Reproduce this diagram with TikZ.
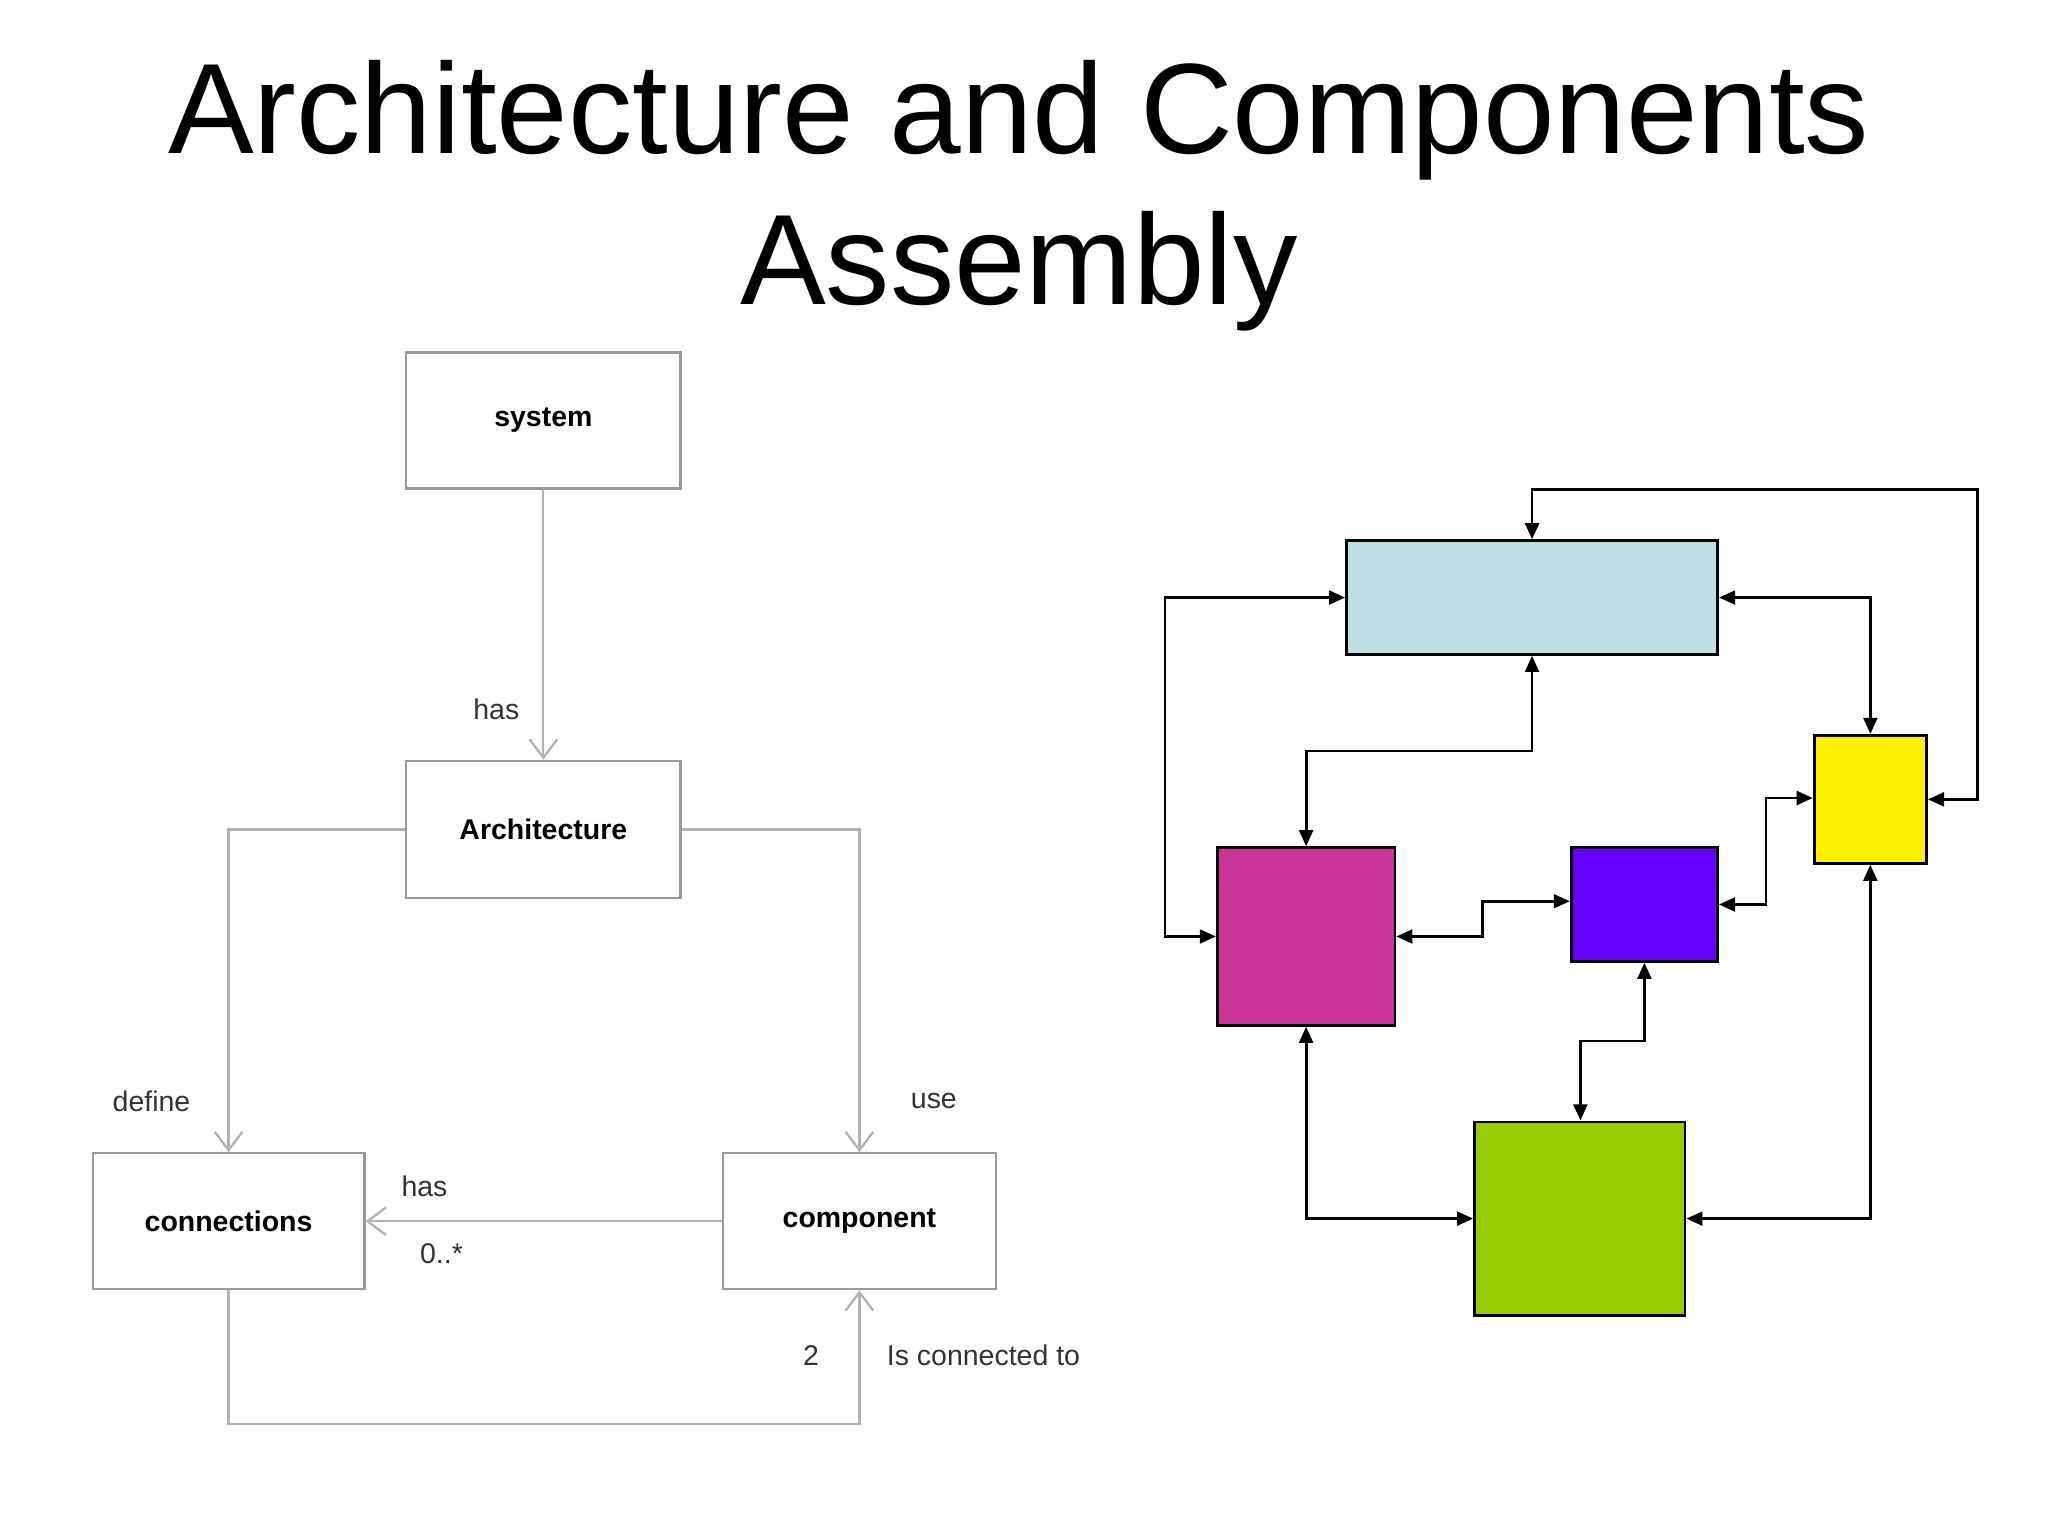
\documentclass[tikz,border=0pt]{standalone}
\usepackage{fontspec}
\setmainfont{Liberation Sans}
\usetikzlibrary{arrows.meta}
\begin{document}
\begin{tikzpicture}[x=0.01cm,y=-0.01cm,
 ubox/.style={draw=gray!80,fill=white,line width=0.5pt,inner sep=0pt,font=\fontsize{6.2}{7}\selectfont\bfseries},
 uline/.style={draw=gray!60,line width=0.5pt},
 uarr/.style={uline,-{Straight Barb[length=4pt,width=6pt]}},
 lbl/.style={font=\fontsize{6.2}{7}\selectfont,text=black!80},
 cbox/.style={draw=black,line width=0.6pt,inner sep=0pt},
 carr/.style={draw=black,line width=0.6pt,{Triangle[length=3.5pt,width=3pt]}-{Triangle[length=3.5pt,width=3pt]}}]
\useasboundingbox (0,0) rectangle (1568,1176);
\node[font=\fontsize{28}{33}\selectfont,align=center] (title) at (780,150) {Architecture and Components\\Assembly};
% left UML
\node[ubox,minimum width=2.1cm,minimum height=1.04cm] (sys) at (416,322) {system};
\node[ubox,minimum width=2.1cm,minimum height=1.05cm] (arch) at (416,635) {Architecture};
\node[ubox,minimum width=2.08cm,minimum height=1.04cm] (conn) at (175,935) {connections};
\node[ubox,minimum width=2.09cm,minimum height=1.04cm] (comp) at (658,935) {component};
\draw[uarr] (sys) -- (arch);
\draw[uarr] (arch.west) -| (conn.north -| 175,0);
\draw[uarr] (arch.east) -| (comp.north);
\draw[uarr] (comp.west) -- (conn.east);
\coordinate (b1) at (175,1090); \coordinate (b2) at (658,1090);
\draw[uarr] (conn.south) -- (b1) -- (b2) -- (comp.south);
\node[lbl] (l1) at (380,543) {has};
\node[lbl] (l2) at (116,843) {define};
\node[lbl] (l3) at (715,843) {use};
\node[lbl] (l4) at (325,908) {has};
\node[lbl] (l5) at (338,960) {0..*};
\node[lbl] (l6) at (621,1038) {2};
\node[lbl] (l7) at (753,1038) {Is connected to};
% right blocks
\node[cbox,fill=cyan!10!gray!25!white,fill={rgb,255:red,189;green,224;blue,226},minimum width=2.84cm,minimum height=0.87cm] (cy) at (1173,457.5) {};
\node[cbox,fill={rgb,255:red,204;green,51;blue,153},minimum width=1.36cm,minimum height=1.36cm] (mg) at (1000,717) {};
\node[cbox,fill={rgb,255:red,102;green,0;blue,255},minimum width=1.12cm,minimum height=0.87cm] (pu) at (1259,692.5) {};
\node[cbox,fill=yellow,minimum width=0.86cm,minimum height=0.98cm] (ye) at (1432,612) {};
\node[cbox,fill={rgb,255:red,153;green,204;blue,0},minimum width=1.61cm,minimum height=1.48cm] (gr) at (1209.5,933) {};
\draw[carr] (ye.east) -- (1514,612) -- (1514,375) -- (1173,375) -- (cy.north);
\draw[carr] (cy.west) -- (892,457.5) -- (892,717) -- (mg.west);
\draw[carr] (cy.east) -| (ye.north);
\draw[carr] (cy.south) -- (1173,575) -- (1000,575) -- (mg.north);
\draw[carr] (mg.east) -- (1135,717) -- (1135,690) -- (pu.west |- 0,690);
\draw[carr] (pu.east) -- (1352,692.5) -- (1352,611) -- (ye.west |- 0,611);
\draw[carr] (pu.south) -- (1259,797) -- (1210,797) -- (gr.north -| 1210,0);
\draw[carr] (mg.south) |- (gr.west);
\draw[carr] (ye.south) |- (gr.east);
\end{tikzpicture}
\end{document}
